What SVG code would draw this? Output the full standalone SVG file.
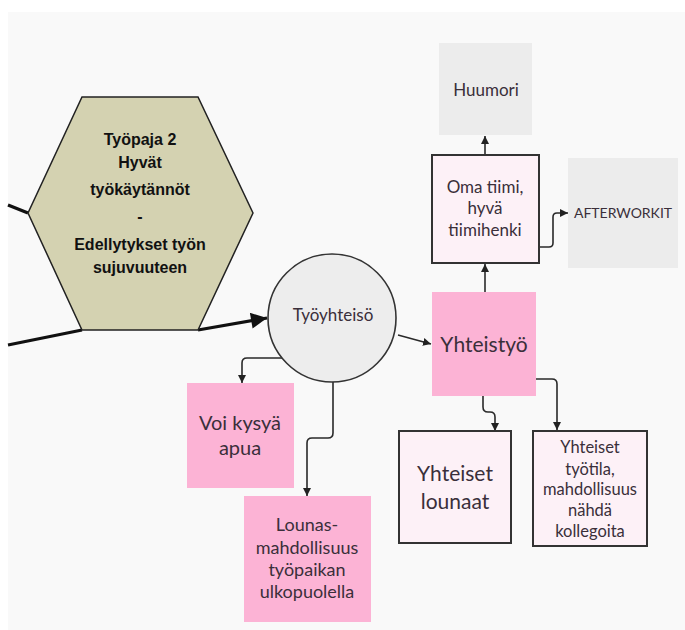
<svg xmlns="http://www.w3.org/2000/svg" width="685" height="630" viewBox="0 0 685 630">
  <defs>
    <marker id="arrow" viewBox="0 0 10 10" refX="10" refY="5" markerWidth="8" markerHeight="8" markerUnits="userSpaceOnUse" orient="auto">
      <path d="M0,0 L10,5 L0,10 z" fill="#222"/>
    </marker>
    <marker id="arrowBig" viewBox="0 0 10 10" refX="10" refY="5" markerWidth="18" markerHeight="16" markerUnits="userSpaceOnUse" orient="auto">
      <path d="M0,0 L10,5 L0,10 z" fill="#111"/>
    </marker>
    <style>
      .conn { fill: none; stroke: #2a2a2a; stroke-width: 1.6; marker-end: url(#arrow); }
      .thick { fill: none; stroke: #111; stroke-width: 3.2; }
      .pink { fill: #fcb3d5; }
      .light { fill: #fdf1f7; stroke: #333; stroke-width: 2; }
      .gray { fill: #ececec; }
      .t { font-family: Lato, "Noto Sans", sans-serif; fill: #3a2f3a; text-anchor: middle; }
      .hex { font-family: "Liberation Sans", Arial, sans-serif; font-weight: bold; fill: #111; text-anchor: middle; font-size: 16px; }
    </style>
  </defs>

  <!-- canvas -->
  <rect x="0" y="0" width="685" height="630" fill="#ffffff"/>
  <rect x="8" y="12" width="677" height="618" fill="#f9f9f9"/>

  <!-- connectors -->
  <g id="connectors">
    <path class="thick" d="M8,205 L28,213"/>
    <path class="thick" d="M8,345 L82,330"/>
    <path class="thick" d="M198,330 L267,318" marker-end="url(#arrowBig)"/>
    <path class="conn" d="M398,335 L431,344"/>
    <path class="conn" d="M282,358 L247,358 Q242,358 242,363 L242,383"/>
    <path class="conn" d="M333,382 L333,433 Q333,438 328,438 L312,438 Q307,438 307,443 L307,496"/>
    <path class="conn" d="M485,292 L485,264"/>
    <path class="conn" d="M485,155 L485,136"/>
    <path class="conn" d="M539,247 L549,247 Q553,247 553,243 L553,217 Q553,213 557,213 L568,213"/>
    <path class="conn" d="M483,396 L483,407 Q483,412 488,412 L490,412 Q495,412 495,417 L495,431"/>
    <path class="conn" d="M536,379 L552,379 Q557,379 557,384 L557,430"/>
  </g>

  <!-- hexagon -->
  <g id="tyopaja">
    <polygon points="82,97 198,97 253,213 198,330 82,330 28,213" fill="#d4d2b1" stroke="#222" stroke-width="1.5"/>
    <text class="hex" x="140" y="145">Työpaja 2</text>
    <text class="hex" x="140" y="168">Hyvät</text>
    <text class="hex" x="140" y="195">työkäytännöt</text>
    <text class="hex" x="140" y="222">-</text>
    <text class="hex" x="140" y="250">Edellytykset työn</text>
    <text class="hex" x="140" y="273">sujuvuuteen</text>
  </g>

  <g id="tyoyhteiso">
    <circle cx="332" cy="318" r="64" fill="#ededed" stroke="#333" stroke-width="1.6"/>
    <text class="t" x="333" y="321" font-size="17">Työyhteisö</text>
  </g>

  <g id="yhteistyo">
    <rect class="pink" x="432" y="292" width="104" height="104"/>
    <text class="t" x="484" y="352" font-size="21">Yhteistyö</text>
  </g>

  <g id="huumori">
    <rect class="gray" x="439" y="43" width="93" height="92"/>
    <text class="t" x="486" y="96" font-size="17">Huumori</text>
  </g>

  <g id="omatiimi">
    <rect class="light" x="432" y="155" width="107" height="108"/>
    <text class="t" font-size="17"><tspan x="485" y="193">Oma tiimi,</tspan><tspan x="485" y="214">hyvä</tspan><tspan x="485" y="236">tiimihenki</tspan></text>
  </g>

  <g id="afterworkit">
    <rect class="gray" x="568" y="158" width="110" height="110"/>
    <text class="t" x="623" y="218" font-size="14">AFTERWORKIT</text>
  </g>

  <g id="voikysya">
    <rect class="pink" x="187" y="383" width="107" height="105"/>
    <text class="t" font-size="20"><tspan x="240" y="430">Voi kysyä</tspan><tspan x="240" y="455">apua</tspan></text>
  </g>

  <g id="lounas">
    <rect class="pink" x="244" y="496" width="127" height="126"/>
    <text class="t" font-size="18"><tspan x="307" y="531">Lounas-</tspan><tspan x="307" y="554">mahdollisuus</tspan><tspan x="307" y="576">työpaikan</tspan><tspan x="307" y="598">ulkopuolella</tspan></text>
  </g>

  <g id="lounaat">
    <rect class="light" x="399" y="431" width="112" height="112"/>
    <text class="t" font-size="21"><tspan x="455" y="481">Yhteiset</tspan><tspan x="455" y="509">lounaat</tspan></text>
  </g>

  <g id="tyotila">
    <rect class="light" x="533" y="431" width="114" height="115"/>
    <text class="t" font-size="16.5"><tspan x="590" y="453">Yhteiset</tspan><tspan x="590" y="475">työtila,</tspan><tspan x="590" y="495">mahdollisuus</tspan><tspan x="590" y="516">nähdä</tspan><tspan x="590" y="537">kollegoita</tspan></text>
  </g>
</svg>
